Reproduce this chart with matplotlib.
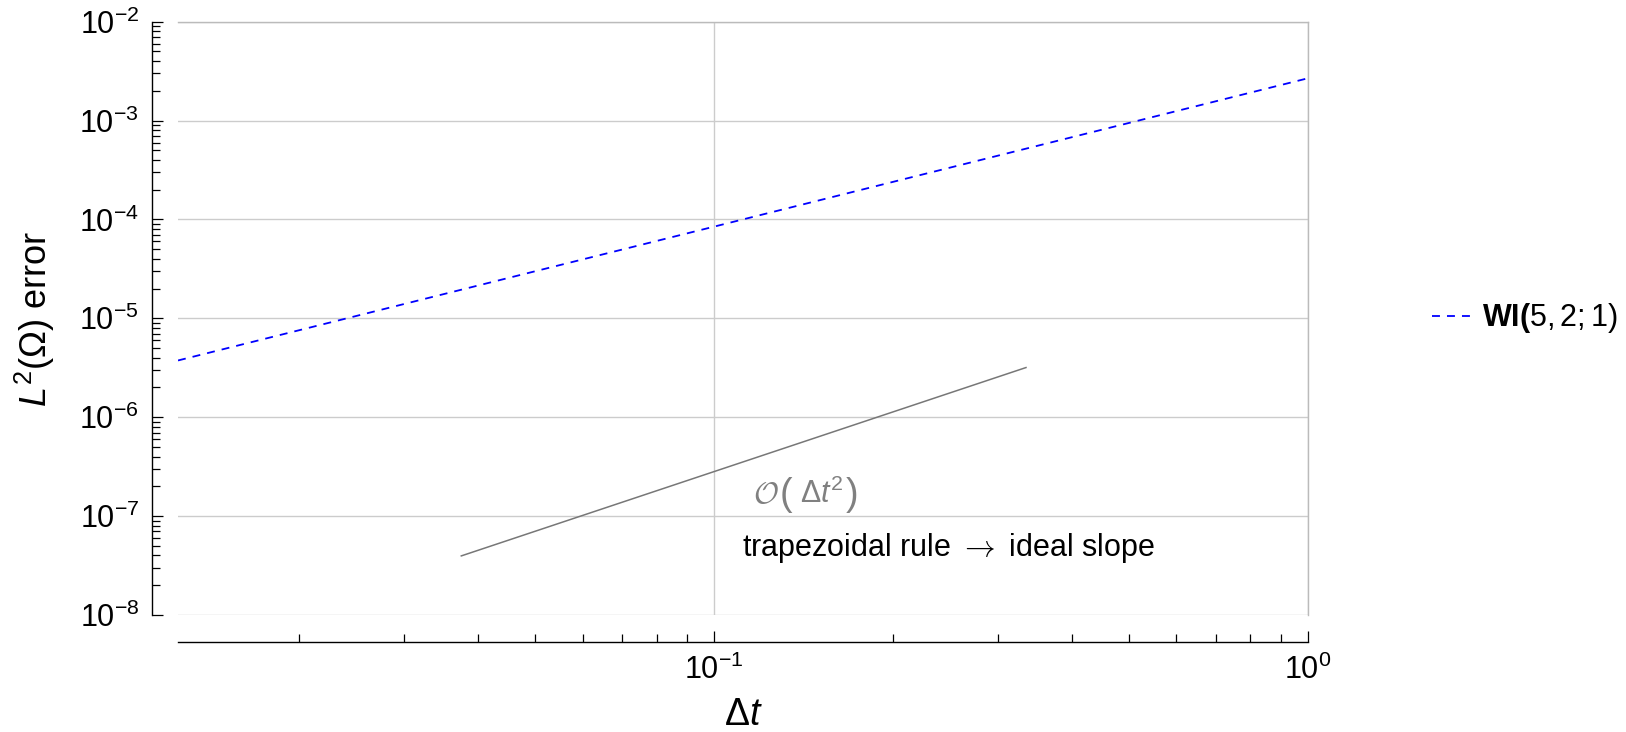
import matplotlib
matplotlib.use("Agg")
import matplotlib.pyplot as plt
from matplotlib.ticker import LogLocator, NullFormatter

plt.rcParams['font.family'] = ['Liberation Sans', 'DejaVu Sans']
plt.rcParams['mathtext.fontset'] = 'custom'
plt.rcParams['mathtext.rm'] = 'Liberation Sans'
plt.rcParams['mathtext.it'] = 'Liberation Sans:italic'
plt.rcParams['mathtext.bf'] = 'Liberation Sans:bold'

# WI(5,2;1) error vs time step
dt = [0.0125, 0.025, 0.05, 0.1, 0.2, 0.5, 1.0]
err_wi = [3.75e-6, 1.06e-5, 3.0e-5, 8.47e-5, 2.40e-4, 9.48e-4, 2.68e-3]

# reference slope line (order 2)
dt_ref = [0.0375, 0.335]
err_ref = [3.96e-8, 3.18e-6]

W, H = 1626, 732
fig = plt.figure(figsize=(W / 100, H / 100), dpi=100)
ax = fig.add_axes([178 / W, 1 - 615 / H, 1130 / W, (615 - 21.7) / H])

ax.plot(dt, err_wi, color='#0000ff', lw=1.3, dashes=(4.4, 3.9),
        label=r'$\mathbf{WI(}5,2;1)$')
ax.plot(dt_ref, err_ref, color='#777777', lw=1.1)

ax.set_xscale('log')
ax.set_yscale('log')
ax.set_xlim(0.0125, 1)
ax.set_ylim(1e-8, 1e-2)

ax.yaxis.set_major_locator(LogLocator(base=10, numticks=20))
ax.yaxis.set_minor_locator(LogLocator(base=10, subs=range(2, 10), numticks=20))
ax.xaxis.set_minor_formatter(NullFormatter())
ax.yaxis.set_minor_formatter(NullFormatter())

ax.grid(which='major', color='#cccccc', lw=1)
ax.set_axisbelow(True)

ax.spines['left'].set_position(('outward', 19))
ax.spines['bottom'].set_position(('outward', 19.5))
for s in ['left', 'bottom']:
    ax.spines[s].set_linewidth(1.0)
for s in ['top', 'right']:
    ax.spines[s].set_color('#bbbbbb')
    ax.spines[s].set_linewidth(1.0)

ax.tick_params(which='both', direction='in', top=False, right=False,
               width=0.9, labelsize=22, pad=9)
ax.tick_params(which='major', length=8)
ax.tick_params(which='minor', length=5.5)

ax.set_xlabel(r'$\Delta t$', fontsize=27)
ax.set_ylabel(r'$L^2(\Omega)$ error', fontsize=26)
ax.xaxis.label.set_va('center')
ax.yaxis.label.set_va('center')
ax.xaxis.set_label_coords(0.5, -0.1686)
ax.yaxis.set_label_coords(-0.1265, 0.5)

# O(dt^2) annotation, pieced together so the brackets come out tall
gray = '#808080'
ax.text(0.532, 0.1888, r'$\mathcal{O}$', transform=ax.transAxes, ha='right',
        va='baseline', color=gray, fontsize=22, math_fontfamily='cm')
ax.text(0.5327, 0.1855, '(', transform=ax.transAxes, ha='left',
        va='baseline', color=gray, fontsize=27, fontweight='light')
ax.text(0.5504, 0.1888, r'$\Delta t^{2}$', transform=ax.transAxes,
        ha='left', va='baseline', color=gray, fontsize=22)
ax.text(0.5905, 0.1855, ')', transform=ax.transAxes, ha='left',
        va='baseline', color=gray, fontsize=27, fontweight='light')

ax.text(0.682, 0.0994, r'trapezoidal rule $\rightarrow$ ideal slope',
        transform=ax.transAxes, ha='center', va='baseline', fontsize=22,
        math_fontfamily='cm')

ax.legend(loc='center left', bbox_to_anchor=(1.1097, 0.5), frameon=False,
          fontsize=22, handlelength=1.24, handletextpad=0.39, borderpad=0,
          borderaxespad=0)

fig.savefig('out.png', dpi=100)
